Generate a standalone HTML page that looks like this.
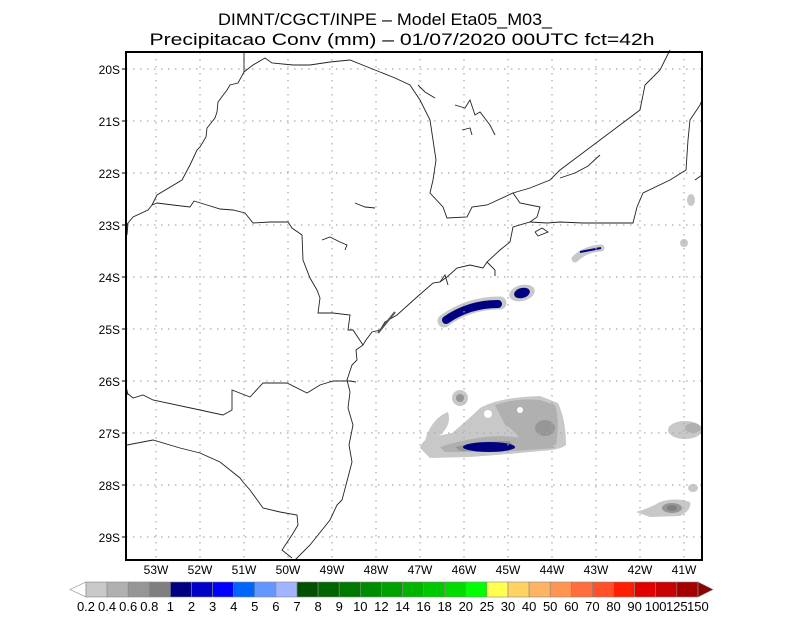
<!DOCTYPE html>
<html><head><meta charset="utf-8"><style>
html,body{margin:0;padding:0;background:#fff;}
svg{display:block;font-family:"Liberation Sans",sans-serif;}
</style></head><body>
<svg width="800" height="618" viewBox="0 0 800 618" xmlns="http://www.w3.org/2000/svg">
<rect width="800" height="618" fill="#fff"/>
<text x="385" y="25" font-size="17" text-anchor="middle" textLength="334" lengthAdjust="spacingAndGlyphs">DIMNT/CGCT/INPE –  Model Eta05_M03_</text>
<text x="402" y="45" font-size="17" text-anchor="middle" textLength="505" lengthAdjust="spacingAndGlyphs">Precipitacao Conv (mm) – 01/07/2020 00UTC fct=42h</text>

<g>
<path d="M444,321 Q468,303 500,303" stroke="#c8c8c8" stroke-width="13" fill="none" stroke-linecap="round"/>
<path d="M446,320 Q469,304 498,304" stroke="#000080" stroke-width="8" fill="none" stroke-linecap="round"/>
<ellipse cx="522" cy="293" rx="13" ry="8" fill="#c8c8c8" transform="rotate(-15 522 293)"/>
<ellipse cx="522" cy="293" rx="8" ry="5" fill="#000080" transform="rotate(-15 522 293)"/>
<path d="M575,259 Q585,249 601,248" stroke="#c8c8c8" stroke-width="7" fill="none" stroke-linecap="round"/>
<path d="M580,252 L601,248" stroke="#000080" stroke-width="2" fill="none"/>
<ellipse cx="691" cy="200" rx="4" ry="6" fill="#c8c8c8"/>
<ellipse cx="684" cy="243" rx="4" ry="4" fill="#c8c8c8"/>
<!-- south complex -->
<path d="M420,448 Q422,440 432,437 L452,433 Q470,418 480,408 Q500,397 540,396 L558,403 Q566,420 566,445 Q560,450 540,451 Q500,455 470,457 L430,458 Z" fill="#c8c8c8"/>
<path d="M425,440 Q432,418 448,412 Q452,425 440,435 Z" fill="#c8c8c8"/>
<circle cx="460" cy="398" r="8" fill="#c8c8c8"/>
<circle cx="460" cy="398" r="4" fill="#969696"/>
<path d="M495,405 Q515,398 540,400 L555,405 Q560,420 556,445 L525,446 Q515,430 505,425 Z" fill="#b0b0b0"/>
<path d="M440,447 Q470,437 500,436 L530,438 Q550,440 555,448 L500,452 L445,452 Z" fill="#b0b0b0"/>
<path d="M455,447 Q480,441 510,441 L515,449 L460,451 Z" fill="#969696"/>
<ellipse cx="545" cy="428" rx="10" ry="8" fill="#969696"/>
<ellipse cx="489" cy="447" rx="26" ry="5" fill="#000080"/>
<circle cx="488" cy="414" r="4" fill="#fff"/>
<circle cx="520" cy="410" r="3" fill="#fff"/>
<ellipse cx="685" cy="430" rx="17" ry="9" fill="#c8c8c8"/>
<ellipse cx="693" cy="428" rx="8" ry="5" fill="#b0b0b0"/>
<ellipse cx="693" cy="488" rx="5" ry="4" fill="#c8c8c8"/>
<path d="M636,512 Q650,508 660,502 Q675,497 690,502 Q692,510 680,516 L650,517 Z" fill="#c8c8c8"/>
<ellipse cx="672" cy="508" rx="10" ry="5" fill="#969696"/>
<ellipse cx="672" cy="508" rx="5" ry="3" fill="#7f7f7f"/>
</g>

<g stroke="#aaa" stroke-width="1.2" stroke-dasharray="1.5,5.5">
<line x1="156" y1="52" x2="156" y2="560"/><line x1="200" y1="52" x2="200" y2="560"/><line x1="244" y1="52" x2="244" y2="560"/><line x1="288" y1="52" x2="288" y2="560"/><line x1="332" y1="52" x2="332" y2="560"/><line x1="376" y1="52" x2="376" y2="560"/><line x1="420" y1="52" x2="420" y2="560"/><line x1="464" y1="52" x2="464" y2="560"/><line x1="508" y1="52" x2="508" y2="560"/><line x1="552" y1="52" x2="552" y2="560"/><line x1="596" y1="52" x2="596" y2="560"/><line x1="640" y1="52" x2="640" y2="560"/><line x1="684" y1="52" x2="684" y2="560"/>
<line x1="126" y1="69" x2="702" y2="69"/><line x1="126" y1="121" x2="702" y2="121"/><line x1="126" y1="173" x2="702" y2="173"/><line x1="126" y1="225" x2="702" y2="225"/><line x1="126" y1="277" x2="702" y2="277"/><line x1="126" y1="329" x2="702" y2="329"/><line x1="126" y1="381" x2="702" y2="381"/><line x1="126" y1="433" x2="702" y2="433"/><line x1="126" y1="485" x2="702" y2="485"/><line x1="126" y1="537" x2="702" y2="537"/>
</g>

<g fill="none" stroke="#222" stroke-width="0.9">
<polyline points="295,560 310,545 330,520 337,505 342,500 346,485 352,462 349,445 353,425 348,408 350,392 347,380 352,365 357,360 356,350 363,345 366,340 372,332 380,330 385,322 397,315 417,297 433,283 440,282 447,277 457,268 470,265 483,268 487,262 500,250 510,242 513,227 530,222 547,223 560,222 583,223 633,223 637,207 643,193 670,180 686,170 688,140 690,120 700,105 702,100"/>
<path d="M378,333 L395,312" stroke="#555" stroke-width="2"/>
<polyline points="440,282 445,275 448,285"/>
<polyline points="487,262 495,270 495,276"/>
<polyline points="535,232 542,228 548,232 538,236 535,232"/>
<polyline points="244,52 244,72 238,83 230,85 227,90 218,102 217,112 215,118 207,128 206,137 200,147 197,150 190,165 182,180 157,195 152,205 148,210 133,217 128,223 127,235"/>
<polyline points="244,72 253,65 265,58 272,63 293,65 310,65 330,62 350,60 370,68 395,78 410,85 420,100 430,120 433,140 436,160 433,180 430,193 443,207 447,218 467,217 472,207 487,205 513,193 520,203 540,207 537,217 530,222"/>
<polyline points="513,193 530,188 550,180 560,170 580,155 600,140 620,125 640,110 645,85 660,70 670,50"/>
<polyline points="560,178 575,173 588,166 600,155"/>
<polyline points="152,205 157,203 173,205 190,207 194,201 207,205 220,209 233,210 245,213 253,223 270,222 288,222 292,228 302,235 303,260 310,278 317,290 320,298 318,313 333,313 350,315 348,330 353,330 363,345"/>
<polyline points="127,393 133,398 143,395 153,400 200,410 223,415 232,410 232,390 250,397 263,383 287,383 307,393 320,385 333,381 350,381 356,382"/>
<polyline points="127,445 153,440 180,448 200,453 220,462 240,478 243,482 250,490 263,508 280,512 297,515 298,525 292,535 282,550 292,558"/>
<polyline points="127,223 126,240"/>
<polyline points="126,386 128,395"/>
<polyline points="455,105 465,108 470,100 475,115 480,112 490,125 495,135"/>
<polyline points="462,130 470,128 472,135"/>
<polyline points="418,85 425,92 435,98"/>
<polyline points="355,203 365,207 375,208"/>
<polyline points="322,240 330,237 340,242 347,245 345,250"/>
<polyline points="702,175 695,180"/>
</g>

<rect x="126" y="52" width="576" height="508" fill="none" stroke="#000" stroke-width="2"/>
<g stroke="#000" stroke-width="1">
<line x1="122" y1="69" x2="126" y2="69"/><line x1="122" y1="121" x2="126" y2="121"/><line x1="122" y1="173" x2="126" y2="173"/><line x1="122" y1="225" x2="126" y2="225"/><line x1="122" y1="277" x2="126" y2="277"/><line x1="122" y1="329" x2="126" y2="329"/><line x1="122" y1="381" x2="126" y2="381"/><line x1="122" y1="433" x2="126" y2="433"/><line x1="122" y1="485" x2="126" y2="485"/><line x1="122" y1="537" x2="126" y2="537"/>
</g>
<g font-size="12" text-anchor="end">
<text x="120" y="74">20S</text><text x="120" y="126">21S</text><text x="120" y="178">22S</text><text x="120" y="230">23S</text><text x="120" y="282">24S</text><text x="120" y="334">25S</text><text x="120" y="386">26S</text><text x="120" y="438">27S</text><text x="120" y="490">28S</text><text x="120" y="542">29S</text>
</g>
<g font-size="12" text-anchor="middle">
<text x="156" y="574">53W</text><text x="200" y="574">52W</text><text x="244" y="574">51W</text><text x="288" y="574">50W</text><text x="332" y="574">49W</text><text x="376" y="574">48W</text><text x="420" y="574">47W</text><text x="464" y="574">46W</text><text x="508" y="574">45W</text><text x="552" y="574">44W</text><text x="596" y="574">43W</text><text x="640" y="574">42W</text><text x="684" y="574">41W</text>
</g>

<g stroke="#888" stroke-width="0.6">
<polygon points="70,589.5 86,582 86,597" fill="#fff"/>
<polygon points="713,589.5 698,582 698,597" fill="#8c0000"/>
<rect x="86.0" y="582" width="21.1" height="15" fill="#c8c8c8"/>
<rect x="107.1" y="582" width="21.1" height="15" fill="#b0b0b0"/>
<rect x="128.2" y="582" width="21.1" height="15" fill="#969696"/>
<rect x="149.3" y="582" width="21.1" height="15" fill="#7f7f7f"/>
<rect x="170.4" y="582" width="21.1" height="15" fill="#000080"/>
<rect x="191.5" y="582" width="21.1" height="15" fill="#0000c8"/>
<rect x="212.6" y="582" width="21.1" height="15" fill="#0000ff"/>
<rect x="233.7" y="582" width="21.1" height="15" fill="#0064ff"/>
<rect x="254.8" y="582" width="21.1" height="15" fill="#6496ff"/>
<rect x="275.9" y="582" width="21.1" height="15" fill="#a0b4ff"/>
<rect x="297.0" y="582" width="21.1" height="15" fill="#005000"/>
<rect x="318.1" y="582" width="21.1" height="15" fill="#006400"/>
<rect x="339.2" y="582" width="21.1" height="15" fill="#007800"/>
<rect x="360.3" y="582" width="21.1" height="15" fill="#008c00"/>
<rect x="381.4" y="582" width="21.1" height="15" fill="#00a000"/>
<rect x="402.5" y="582" width="21.1" height="15" fill="#00b400"/>
<rect x="423.6" y="582" width="21.1" height="15" fill="#00c800"/>
<rect x="444.7" y="582" width="21.1" height="15" fill="#00dc00"/>
<rect x="465.8" y="582" width="21.1" height="15" fill="#00ff00"/>
<rect x="486.9" y="582" width="21.1" height="15" fill="#ffff50"/>
<rect x="508.0" y="582" width="21.1" height="15" fill="#ffd264"/>
<rect x="529.1" y="582" width="21.1" height="15" fill="#ffb464"/>
<rect x="550.2" y="582" width="21.1" height="15" fill="#ff9650"/>
<rect x="571.3" y="582" width="21.1" height="15" fill="#ff6e3c"/>
<rect x="592.4" y="582" width="21.1" height="15" fill="#ff5028"/>
<rect x="613.5" y="582" width="21.1" height="15" fill="#ff1e00"/>
<rect x="634.6" y="582" width="21.1" height="15" fill="#e10000"/>
<rect x="655.7" y="582" width="21.1" height="15" fill="#c80000"/>
<rect x="676.8" y="582" width="21.1" height="15" fill="#a50000"/>
</g>
<g font-size="13" text-anchor="middle">
<text x="86.0" y="611">0.2</text><text x="107.1" y="611">0.4</text><text x="128.2" y="611">0.6</text><text x="149.3" y="611">0.8</text><text x="170.4" y="611">1</text><text x="191.5" y="611">2</text><text x="212.6" y="611">3</text><text x="233.7" y="611">4</text><text x="254.8" y="611">5</text><text x="275.9" y="611">6</text><text x="297.0" y="611">7</text><text x="318.1" y="611">8</text><text x="339.2" y="611">9</text><text x="360.3" y="611">10</text><text x="381.4" y="611">12</text><text x="402.5" y="611">14</text><text x="423.6" y="611">16</text><text x="444.7" y="611">18</text><text x="465.8" y="611">20</text><text x="486.9" y="611">25</text><text x="508.0" y="611">30</text><text x="529.1" y="611">40</text><text x="550.2" y="611">50</text><text x="571.3" y="611">60</text><text x="592.4" y="611">70</text><text x="613.5" y="611">80</text><text x="634.6" y="611">90</text><text x="655.7" y="611">100</text><text x="676.8" y="611">125</text><text x="697.9" y="611">150</text>
</g>
</svg>
</body></html>
